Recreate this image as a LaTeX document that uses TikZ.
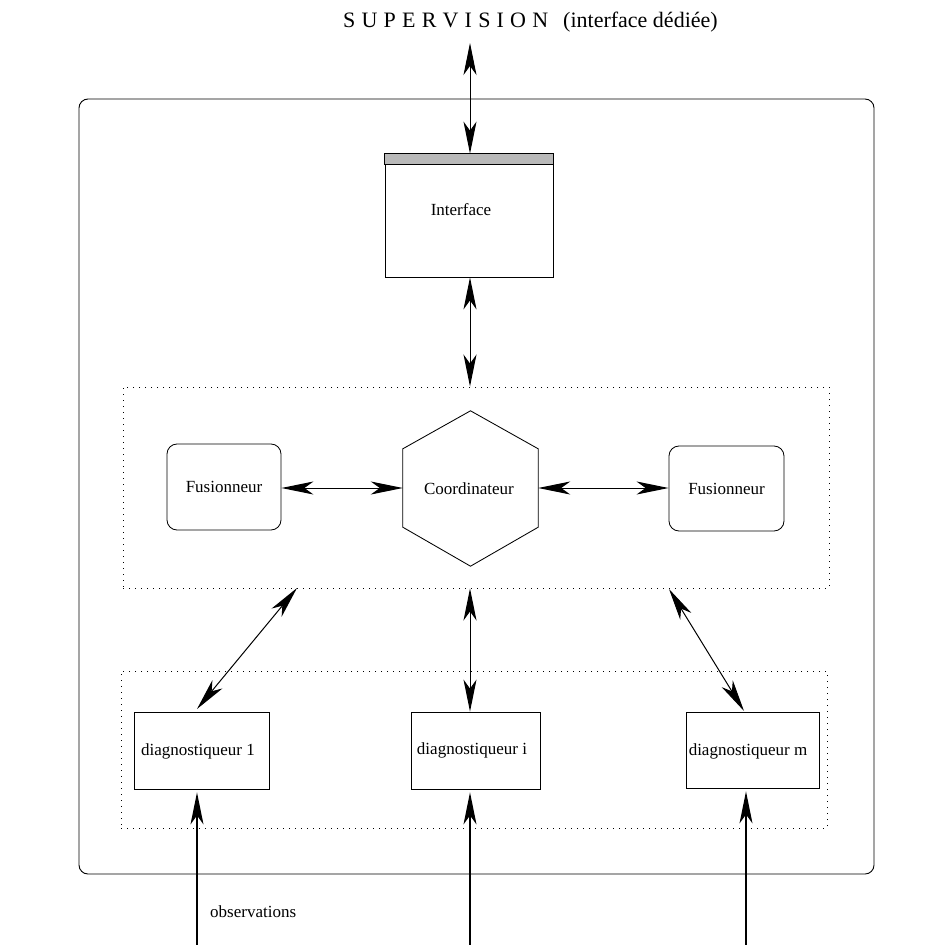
\documentclass[tikz,border=0pt]{standalone}
\usepackage{fontspec}
\setmainfont{Liberation Serif}
\usetikzlibrary{arrows.meta,calc}
\newcommand{\lsp}{\hspace{6.2pt}}
\tikzset{
  lbl/.style={font=\fontsize{17}{20}\selectfont, inner sep=0pt},
  box/.style={draw, line width=0.85pt, inner sep=0pt, fill=white},
  rbox/.style={box, rounded corners=10pt},
  grp/.style={draw, line width=1pt, dash pattern=on 1.2pt off 4.8pt},
  tip/.style={Stealth[length=32pt,width=13pt,inset=9pt]},
  link/.style={line width=1pt, {Stealth[length=32pt,width=13pt,inset=9pt]}-{Stealth[length=32pt,width=13pt,inset=9pt]}},
  inarrow/.style={line width=1.1pt, -{Stealth[length=32pt,width=13pt,inset=9pt]}}
}
\begin{document}
\begin{tikzpicture}[x=1pt,y=-1pt]
\useasboundingbox (0,0) rectangle (931,945);
% outer frame
\node[draw, line width=0.9pt, rounded corners=9pt, minimum width=795pt, minimum height=775pt, inner sep=0pt] (frame) at (476.5,486.5) {};
% title
\node[anchor=base west, inner sep=0pt, font=\fontsize{22}{26}\selectfont] (title) at (343,27) {S\lsp U\lsp P\lsp E\lsp R\lsp V\lsp I\lsp S\lsp I\lsp O\lsp N\hspace{15pt}(interface dédiée)};
% interface window
\node[box, minimum width=168pt, minimum height=123pt] (iface) at (469,215.5) {};
\fill[gray!55] (iface.north west) rectangle ($(iface.north east)+(0,11)$);
\draw[line width=0.85pt] (iface.north west) -- (iface.north east) -- ($(iface.north east)+(0,11)$) -- ($(iface.north west)+(0,11)$) -- cycle;
\node[lbl] (ifacetext) at (461,210) {Interface};
% upper group
\node[grp, minimum width=706pt, minimum height=201pt, inner sep=0pt] (upper) at (476,487.5) {};
\node[rbox, minimum width=114pt, minimum height=86pt] (fusL) at (224,487) {};
\node[lbl] (fusLtext) at (fusL.center) {Fusionneur};
\node[rbox, minimum width=115pt, minimum height=85pt] (fusR) at (726.5,488.5) {};
\node[lbl] (fusRtext) at (fusR.center) {Fusionneur};
% coordinator hexagon
\node[inner sep=0pt, minimum width=135pt, minimum height=78pt] (coord) at (470.5,488) {};
\draw[line width=0.85pt] (coord.north west) -- ($(coord.north)+(0,-38)$) -- (coord.north east) -- (coord.south east) -- ($(coord.south)+(0,39)$) -- (coord.south west) -- cycle;
\node[lbl] (coordtext) at (469,489) {Coordinateur};
% lower group
\node[grp, minimum width=706pt, minimum height=157pt, inner sep=0pt] (lower) at (474,749.5) {};
\node[box, minimum width=135pt, minimum height=77pt] (d1) at (201.5,750.5) {};
\node[lbl] (d1text) at (198,751) {diagnostiqueur 1};
\node[box, minimum width=129pt, minimum height=77pt] (di) at (475.5,750.5) {};
\node[lbl] (ditext) at (472,750) {diagnostiqueur i};
\node[box, minimum width=133pt, minimum height=76pt] (dm) at (752.5,750) {};
\node[lbl] (dmtext) at (748,751) {diagnostiqueur m};
% connectors
\coordinate (sup) at (470,43);
\draw[link] (sup) -- (iface.north -| sup);
\draw[link] (iface.south -| sup) -- (upper.north -| sup);
\draw[link] (fusL.east |- coord.west) -- (coord.west);
\draw[link] (coord.east) -- (fusR.west |- coord.east);
\coordinate (u1) at (297,588);
\coordinate (t1) at (197,709);
\draw[link] (u1) -- (t1);
\draw[link] (upper.south -| sup) -- (di.north -| sup);
\coordinate (um) at (669,589);
\coordinate (tm) at (744,711);
\draw[link] (um) -- (tm);
% observations
\coordinate (o1) at (197,945);
\coordinate (oi) at (470,945);
\coordinate (om) at (746,945);
\draw[inarrow] (o1) -- ($(d1.south -| o1)+(0,3)$);
\draw[inarrow] (oi) -- ($(di.south -| oi)+(0,3)$);
\draw[inarrow] (om) -- ($(dm.south -| om)+(0,3)$);
\node[lbl, anchor=west] (obs) at (210,912) {observations};
\end{tikzpicture}
\end{document}
